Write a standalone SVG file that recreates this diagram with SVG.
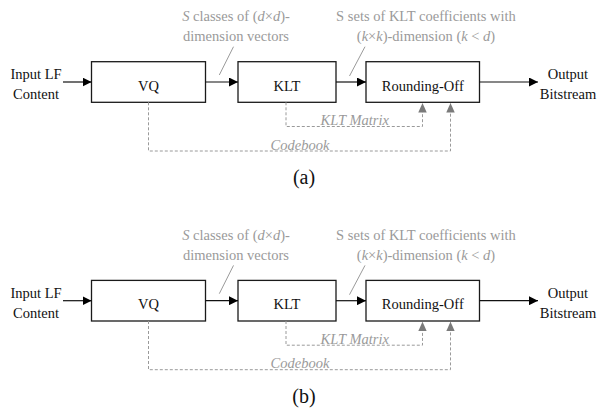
<svg xmlns="http://www.w3.org/2000/svg" width="599" height="409" viewBox="0 0 599 409">
  <defs>
    <style>
      .box { fill: #ffffff; stroke: #1a1a1a; stroke-width: 1.3; }
      .flow { fill: none; stroke: #111111; stroke-width: 1.2; }
      .dash { fill: none; stroke: #9a9a9a; stroke-width: 1; stroke-dasharray: 3 2; }
      .lead { fill: none; stroke: #9a9a9a; stroke-width: 1; }
      .t { font-family: "Liberation Serif", "Times New Roman", serif; font-size: 14.5px; fill: #111111; text-anchor: middle; }
      .g { font-family: "Liberation Serif", "Times New Roman", serif; font-size: 14.5px; fill: #9a9a9a; text-anchor: middle; }
      .it { font-style: italic; }
      .cap { font-family: "Liberation Serif", "Times New Roman", serif; font-size: 20px; fill: #111111; text-anchor: middle; }
    </style>
    <marker id="arrowBlack" viewBox="0 0 10 10" refX="10" refY="5" markerWidth="9" markerHeight="9" markerUnits="userSpaceOnUse" orient="auto" preserveAspectRatio="none">
      <path d="M0,0 L10,5 L0,10 Z" fill="#000000"/>
    </marker>
    <marker id="arrowGray" viewBox="0 0 10 10" refX="10" refY="5" markerWidth="9.5" markerHeight="8.5" markerUnits="userSpaceOnUse" orient="auto" preserveAspectRatio="none">
      <path d="M0,0 L10,5 L0,10 Z" fill="#7a7a7a"/>
    </marker>
  </defs>

  <!-- Panel (a) -->
  <g id="panel-a">
    <g id="a-input">
      <text class="t" x="36" y="79">Input LF</text>
      <text class="t" x="36" y="99">Content</text>
    </g>
    <g id="a-vq">
      <rect class="box" x="91.5" y="61.7" width="114" height="40.6"/>
      <text class="t" x="148.5" y="90.5">VQ</text>
    </g>
    <g id="a-klt">
      <rect class="box" x="238" y="61.7" width="98" height="40.6"/>
      <text class="t" x="287" y="90.5">KLT</text>
    </g>
    <g id="a-round">
      <rect class="box" x="366" y="61.7" width="113.5" height="40.6"/>
      <text class="t" x="422.8" y="90.5">Rounding-Off</text>
    </g>
    <g id="a-output">
      <text class="t" x="568" y="79">Output</text>
      <text class="t" x="568" y="99">Bitstream</text>
    </g>
    <g id="a-connectors">
      <path class="flow" d="M63,82 H91.5" marker-end="url(#arrowBlack)"/>
      <path class="flow" d="M205.5,82 H238" marker-end="url(#arrowBlack)"/>
      <path class="flow" d="M336,82 H366" marker-end="url(#arrowBlack)"/>
      <path class="flow" d="M479.5,82 H538" marker-end="url(#arrowBlack)"/>
      <path class="dash" d="M286,102.3 V126.5 H422.5 V103" marker-end="url(#arrowGray)"/>
      <path class="dash" d="M148.5,102.3 V151 H450.5 V103" marker-end="url(#arrowGray)"/>
      <path class="lead" d="M219.3,75 L233.5,46.7"/>
      <path class="lead" d="M349.5,76 L365,46.7"/>
      <text class="g" x="236" y="21"><tspan class="it">S</tspan> classes of (<tspan class="it">d</tspan>×<tspan class="it">d</tspan>)-</text>
      <text class="g" x="236" y="41">dimension vectors</text>
      <text class="g" x="426" y="21">S sets of KLT coefficients with</text>
      <text class="g" x="426" y="41">(<tspan class="it">k</tspan>×<tspan class="it">k</tspan>)-dimension (<tspan class="it">k</tspan> &lt; <tspan class="it">d</tspan>)</text>
      <text class="g it" x="354.7" y="125">KLT Matrix</text>
      <text class="g it" x="300" y="149.5">Codebook</text>
    </g>
    <text class="cap" x="304" y="184">(a)</text>
  </g>

  <!-- Panel (b) -->
  <g id="panel-b" transform="translate(0,218.7)">
    <g id="b-input">
      <text class="t" x="36" y="79">Input LF</text>
      <text class="t" x="36" y="99">Content</text>
    </g>
    <g id="b-vq">
      <rect class="box" x="91.5" y="61.7" width="114" height="40.6"/>
      <text class="t" x="148.5" y="90.5">VQ</text>
    </g>
    <g id="b-klt">
      <rect class="box" x="238" y="61.7" width="98" height="40.6"/>
      <text class="t" x="287" y="90.5">KLT</text>
    </g>
    <g id="b-round">
      <rect class="box" x="366" y="61.7" width="113.5" height="40.6"/>
      <text class="t" x="422.8" y="90.5">Rounding-Off</text>
    </g>
    <g id="b-output">
      <text class="t" x="568" y="79">Output</text>
      <text class="t" x="568" y="99">Bitstream</text>
    </g>
    <g id="b-connectors">
      <path class="flow" d="M63,82 H91.5" marker-end="url(#arrowBlack)"/>
      <path class="flow" d="M205.5,82 H238" marker-end="url(#arrowBlack)"/>
      <path class="flow" d="M336,82 H366" marker-end="url(#arrowBlack)"/>
      <path class="flow" d="M479.5,82 H538" marker-end="url(#arrowBlack)"/>
      <path class="dash" d="M286,102.3 V126.5 H422.5 V103" marker-end="url(#arrowGray)"/>
      <path class="dash" d="M148.5,102.3 V151 H450.5 V103" marker-end="url(#arrowGray)"/>
      <path class="lead" d="M219.3,75 L233.5,46.7"/>
      <path class="lead" d="M349.5,76 L365,46.7"/>
      <text class="g" x="236" y="21"><tspan class="it">S</tspan> classes of (<tspan class="it">d</tspan>×<tspan class="it">d</tspan>)-</text>
      <text class="g" x="236" y="41">dimension vectors</text>
      <text class="g" x="426" y="21">S sets of KLT coefficients with</text>
      <text class="g" x="426" y="41">(<tspan class="it">k</tspan>×<tspan class="it">k</tspan>)-dimension (<tspan class="it">k</tspan> &lt; <tspan class="it">d</tspan>)</text>
      <text class="g it" x="354.7" y="125">KLT Matrix</text>
      <text class="g it" x="300" y="149.5">Codebook</text>
    </g>
    <text class="cap" x="304" y="184">(b)</text>
  </g>
</svg>
